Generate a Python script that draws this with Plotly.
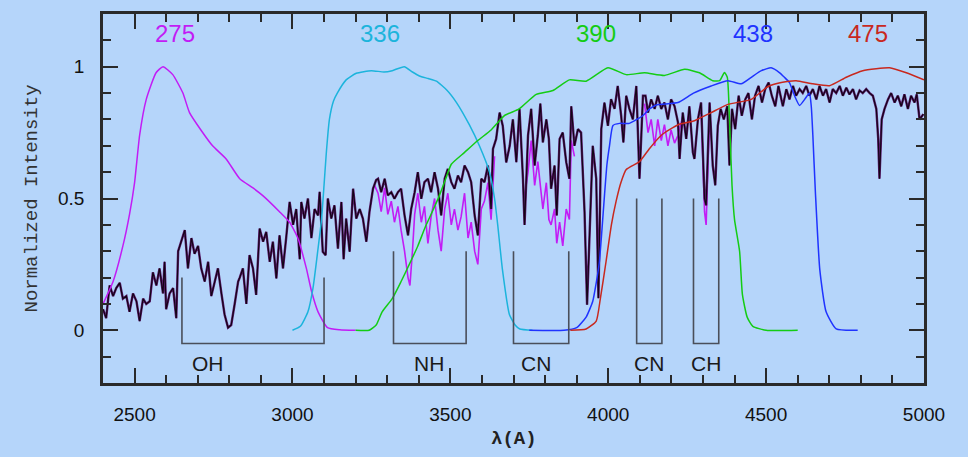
import plotly.graph_objects as go

# ---------------- data ----------------
# black (dominant) stellar spectrum: wavelength (A) and normalized flux
spec_wl = [2400, 2410, 2421, 2432, 2442, 2453, 2463, 2474, 2484, 2495, 2506, 2516, 2527, 2537, 2548,
           2558, 2569, 2579, 2590, 2595, 2600, 2611, 2622, 2632, 2638, 2648, 2659, 2669, 2680, 2690,
           2701, 2711, 2722, 2733, 2743, 2754, 2764, 2775, 2785, 2796, 2806, 2817, 2828,
           2833, 2843, 2854, 2864, 2875, 2885, 2896, 2907, 2917, 2928, 2938, 2949, 2959, 2970, 2980,
           2991, 3002, 3012, 3023, 3028, 3038, 3049, 3060, 3070, 3081, 3086, 3096, 3105, 3112, 3123,
           3133, 3144, 3155, 3162, 3170, 3181, 3192, 3202, 3213, 3223, 3234, 3244, 3255,
           3265, 3271, 3281, 3292, 3302, 3313, 3323, 3334, 3344, 3355, 3366, 3376, 3387, 3397, 3408,
           3418, 3429, 3439, 3450, 3461, 3471, 3482, 3492, 3503, 3513, 3524, 3534, 3545, 3556, 3566,
           3577, 3587, 3598, 3608, 3619, 3629, 3635, 3645, 3656, 3666, 3677,
           3688, 3698, 3709, 3719, 3730, 3735, 3746, 3756, 3767, 3777, 3785, 3793, 3804, 3812, 3819,
           3830, 3837, 3846, 3856, 3867, 3877, 3883, 3893, 3904, 3914, 3925, 3933, 3941, 3951, 3962,
           3969, 3978, 3988, 3999, 4009, 4020, 4030, 4041, 4048, 4057, 4067, 4078, 4089, 4099, 4110,
           4118, 4126, 4136, 4147, 4157, 4168, 4178, 4189, 4199, 4210, 4221, 4226, 4236, 4247, 4257,
           4268, 4273, 4284, 4294, 4305, 4310, 4321, 4331, 4339, 4347, 4356, 4366, 4377, 4384, 4392,
           4402, 4413, 4423, 4434, 4444, 4455, 4465, 4476, 4487, 4497, 4508, 4518, 4529, 4539,
           4553, 4564, 4574, 4585, 4595, 4606, 4616, 4627, 4637, 4648, 4659, 4669, 4680, 4690, 4701,
           4711, 4722, 4733, 4743, 4754, 4764, 4775, 4785, 4796, 4806, 4817, 4828, 4838, 4849, 4855,
           4859, 4866, 4875, 4886, 4896, 4907, 4917, 4928, 4938, 4949, 4959, 4970, 4977, 4986, 4998]
spec_flux = [0.08, 0.046, 0.17, 0.13, 0.16, 0.18, 0.12, 0.13, 0.07, 0.14, 0.11, 0.035, 0.12, 0.10, 0.11,
             0.22, 0.17, 0.235, 0.14, 0.26, 0.08, 0.14, 0.16, 0.046, 0.30, 0.34, 0.38, 0.235, 0.35, 0.29,
             0.32, 0.235, 0.185, 0.26, 0.13, 0.185, 0.235, 0.14, 0.06, 0.01, 0.02, 0.10, 0.185,
             0.20, 0.235, 0.10, 0.285, 0.235, 0.134, 0.386, 0.336, 0.373, 0.26, 0.336, 0.197, 0.36, 0.235, 0.35,
             0.487, 0.40, 0.46, 0.27, 0.487, 0.424, 0.50, 0.35, 0.46, 0.436, 0.525, 0.298, 0.285, 0.50, 0.424,
             0.474, 0.31, 0.487, 0.27, 0.424, 0.298, 0.537, 0.424, 0.46, 0.424, 0.336, 0.45, 0.537,
             0.57, 0.575, 0.524, 0.575, 0.512, 0.524, 0.499, 0.524, 0.537, 0.436, 0.36, 0.46, 0.524, 0.60, 0.499,
             0.562, 0.575, 0.524, 0.60, 0.537, 0.436, 0.575, 0.612, 0.562, 0.537, 0.587, 0.562, 0.625, 0.60, 0.562,
             0.436, 0.36, 0.575, 0.562, 0.625, 0.46, 0.688, 0.726, 0.826, 0.776, 0.637,
             0.70, 0.80, 0.638, 0.84, 0.575, 0.40, 0.74, 0.84, 0.625, 0.74, 0.86, 0.713, 0.80, 0.726, 0.537,
             0.625, 0.436, 0.726, 0.75, 0.638, 0.575, 0.85, 0.70, 0.763, 0.75, 0.449, 0.097, 0.386, 0.70, 0.575,
             0.122, 0.763, 0.864, 0.776, 0.877, 0.84, 0.927, 0.814, 0.713, 0.89, 0.84, 0.80, 0.927, 0.575, 0.89,
             0.89, 0.826, 0.876, 0.84, 0.89, 0.84, 0.864, 0.80, 0.876, 0.85, 0.788, 0.65, 0.826, 0.726, 0.85,
             0.675, 0.65, 0.80, 0.864, 0.50, 0.474, 0.864, 0.625, 0.55, 0.776, 0.84, 0.80, 0.85, 0.625, 0.84,
             0.763, 0.89, 0.814, 0.876, 0.90, 0.80, 0.89, 0.927, 0.864, 0.915, 0.94, 0.89, 0.85, 0.927,
             0.85, 0.915, 0.876, 0.927, 0.89, 0.915, 0.90, 0.927, 0.89, 0.915, 0.876, 0.927, 0.89, 0.915, 0.864,
             0.915, 0.90, 0.927, 0.89, 0.92, 0.895, 0.915, 0.876, 0.91, 0.90, 0.915, 0.90, 0.89, 0.84, 0.726,
             0.575, 0.80, 0.84, 0.876, 0.90, 0.864, 0.89, 0.85, 0.895, 0.84, 0.89, 0.864, 0.895, 0.80, 0.82]

# second (magenta) spectrum where it departs from the black one; None = gap
spec2_wl = [3260, 3271, 3281, 3292, 3302, 3313, 3323, 3334, 3344, 3355, 3366, 3372, 3380, 3387, 3397,
            3408, 3418, 3429, 3439, 3450, 3461, 3471, 3482, 3492, 3503, 3513, 3524, 3534, 3545, 3556,
            3566, 3577, 3587, 3598, 3608, 3619, 3629, 3640, None,
            3740, 3746, 3756, 3767, 3777, 3785, 3793, 3804, 3812, 3819, 3830, 3837, 3846, 3856, 3867,
            3877, 3883, 3893, None,
            4115, 4126, 4136, 4147, 4157, 4168, 4178, 4189, 4199, 4210, 4221, 4236, None,
            4295, 4305, 4310, 4321]
spec2_flux = [0.55, 0.52, 0.45, 0.54, 0.44, 0.49, 0.41, 0.47, 0.38, 0.30, 0.20, 0.17, 0.30, 0.44, 0.52,
              0.41, 0.47, 0.33, 0.43, 0.50, 0.38, 0.30, 0.46, 0.52, 0.40, 0.46, 0.38, 0.43, 0.52, 0.35,
              0.41, 0.30, 0.25, 0.46, 0.49, 0.56, 0.42, 0.66, None,
              0.55, 0.60, 0.72, 0.55, 0.64, 0.55, 0.46, 0.56, 0.42, 0.40, 0.46, 0.33, 0.41, 0.32, 0.46,
              0.42, 0.72, 0.66, None,
              0.86, 0.75, 0.80, 0.70, 0.80, 0.72, 0.78, 0.70, 0.76, 0.71, 0.74, 0.81, None,
              0.82, 0.45, 0.40, 0.82]

# filter transmission curves
f275_wl = [2400, 2432, 2463, 2484, 2500, 2516, 2537, 2568, 2590, 2621, 2653, 2674, 2710, 2747, 2790,
           2833, 2875, 2907, 2959, 2991, 3017, 3044, 3060, 3081, 3111, 3150, 3200]
f275_t = [0.10, 0.185, 0.32, 0.44, 0.56, 0.74, 0.876, 0.977, 1.0, 0.97, 0.90, 0.826, 0.76, 0.70, 0.65,
          0.575, 0.54, 0.51, 0.45, 0.41, 0.35, 0.235, 0.15, 0.07, 0.01, 0.002, 0.0]

f336_wl = [3000, 3025, 3049, 3065, 3080, 3092, 3100, 3107, 3117, 3130, 3142, 3170, 3202, 3250, 3290,
           3316, 3354, 3380, 3402, 3430, 3456, 3490, 3519, 3560, 3592, 3624, 3640, 3650, 3665, 3687,
           3705, 3720, 3760]
f336_t = [0.0, 0.015, 0.07, 0.16, 0.30, 0.42, 0.55, 0.67, 0.80, 0.87, 0.90, 0.95, 0.975, 0.985, 0.98,
          0.985, 1.0, 0.98, 0.965, 0.955, 0.945, 0.91, 0.865, 0.78, 0.70, 0.60, 0.50, 0.40, 0.23, 0.06,
          0.02, 0.005, 0.0]

f390_wl = [3200, 3243, 3265, 3284, 3316, 3344, 3370, 3397, 3420, 3439, 3465, 3487, 3503, 3545, 3587,
           3629, 3672, 3718, 3772, 3825, 3877, 3930, 3999, 4057, 4115, 4178, 4242, 4289, 4331, 4353,
           4368, 4377, 4384, 4392, 4400, 4416, 4425, 4440, 4458, 4500, 4600]
f390_t = [0.0, 0.0, 0.02, 0.07, 0.12, 0.185, 0.25, 0.32, 0.39, 0.44, 0.51, 0.58, 0.63, 0.675, 0.72,
          0.76, 0.815, 0.84, 0.895, 0.91, 0.95, 0.945, 0.996, 0.97, 0.977, 0.967, 0.99, 0.977, 0.947, 0.947,
          0.978, 0.96, 0.80, 0.55, 0.42, 0.30, 0.135, 0.05, 0.015, 0.0, 0.0]

f438_wl = [3750, 3860, 3900, 3930, 3951, 3962, 3972, 3980, 3988, 3996, 4004, 4015, 4036, 4067, 4110,
           4131, 4152, 4221, 4270, 4326, 4379, 4421, 4453, 4485, 4516, 4543, 4558, 4574, 4590, 4606,
           4622, 4637, 4643, 4648, 4656, 4670, 4690, 4722, 4790]
f438_t = [0.0, 0.0, 0.01, 0.05, 0.11, 0.18, 0.26, 0.38, 0.51, 0.63, 0.70, 0.777, 0.785, 0.785, 0.815,
          0.84, 0.855, 0.864, 0.90, 0.927, 0.947, 0.935, 0.96, 0.985, 0.996, 0.977, 0.96, 0.94, 0.89, 0.853,
          0.876, 0.90, 0.85, 0.74, 0.525, 0.23, 0.07, 0.005, 0.0]

f475_wl = [3880, 3930, 3962, 3975, 3993, 4010, 4025, 4040, 4057, 4099, 4131, 4168, 4221, 4273, 4326,
           4379, 4453, 4506, 4548, 4595, 4648, 4701, 4754, 4806, 4891, 4944, 5000]
f475_t = [0.0, 0.005, 0.035, 0.12, 0.26, 0.40, 0.49, 0.56, 0.61, 0.64, 0.69, 0.74, 0.78, 0.795, 0.826,
          0.857, 0.876, 0.925, 0.94, 0.947, 0.935, 0.928, 0.96, 0.985, 0.996, 0.977, 0.95]

filter_names = ["275", "336", "390", "438", "475"]
filter_label_x = [2627, 3276, 3961, 4457, 4824]

# molecular band brackets
band_names = ["OH", "NH", "CN", "CN", "CH"]
band_lo = [2650, 3320, 3700, 4090, 4270]
band_hi = [3100, 3550, 3875, 4170, 4350]
band_top = [0.2, 0.3, 0.3, 0.5, 0.5]
band_bottom = -0.05
band_label_x = [2731, 3431, 3772, 4130, 4310]

# ---------------- figure ----------------
BG = "#b5d5fa"
filter_data = [(f275_wl, f275_t, "#c21cf5"), (f336_wl, f336_t, "#1cb4dc"),
               (f390_wl, f390_t, "#14cc14"), (f438_wl, f438_t, "#1f33ff"),
               (f475_wl, f475_t, "#c8281e")]

fig = go.Figure()

fig.add_trace(go.Scatter(x=spec2_wl, y=spec2_flux, mode="lines", connectgaps=False,
                         line=dict(color="#c21cf5", width=1.6), hoverinfo="skip"))
fig.add_trace(go.Scatter(x=spec_wl, y=spec_flux, mode="lines",
                         line=dict(color="#5a1a6a", width=2.4), hoverinfo="skip"))
fig.add_trace(go.Scatter(x=spec_wl, y=spec_flux, mode="lines",
                         line=dict(color="#120414", width=1.1), hoverinfo="skip"))

for wl, t, c in filter_data:
    fig.add_trace(go.Scatter(x=wl, y=t, mode="lines",
                             line=dict(color=c, width=1.5, shape="spline", smoothing=0.5),
                             hoverinfo="skip"))

for lo, hi, top in zip(band_lo, band_hi, band_top):
    fig.add_trace(go.Scatter(x=[lo, lo, hi, hi], y=[top, band_bottom, band_bottom, top],
                             mode="lines", line=dict(color="#4a4f5a", width=1.6),
                             hoverinfo="skip"))

for (wl, t, c), name, lx in zip(filter_data, filter_names, filter_label_x):
    fig.add_annotation(x=lx, y=1.125, text=name, showarrow=False,
                       font=dict(family="Liberation Sans, Arial", size=24, color=c),
                       xanchor="center", yanchor="middle")

for name, lx in zip(band_names, band_label_x):
    fig.add_annotation(x=lx, y=-0.125, text=name, showarrow=False,
                       font=dict(family="Liberation Sans, Arial", size=21, color="#1a1a1a"),
                       xanchor="center", yanchor="middle")

fig.add_annotation(xref="paper", yref="paper", x=-0.0865, y=0.5, text="Normalized Intensity",
                   textangle=-90, showarrow=False,
                   font=dict(family="Liberation Mono, monospace", size=19, color="#333333"),
                   xanchor="center", yanchor="middle")
fig.add_annotation(xref="paper", yref="paper", x=0.5006, y=-0.153, text="<b>λ(A)</b>",
                   showarrow=False,
                   font=dict(family="Liberation Mono, monospace", size=19, color="#222222"),
                   xanchor="center", yanchor="middle")

axis_common = dict(showgrid=False, zeroline=False, showline=True, linecolor="#2a2a2a", linewidth=2.5,
                   mirror="ticks", ticks="inside", ticklen=15, tickwidth=2, tickcolor="#2a2a2a",
                   tickfont=dict(family="Liberation Sans, Arial", size=19, color="#111111"))

fig.update_xaxes(range=[2400, 5000], tick0=2500, dtick=500,
                 minor=dict(dtick=100, ticks="inside", ticklen=8, tickwidth=2, tickcolor="#2a2a2a"),
                 ticklabelstandoff=12, **axis_common)
fig.update_yaxes(range=[-0.2, 1.2], tick0=0, dtick=0.5,
                 minor=dict(dtick=0.1, ticks="inside", ticklen=8, tickwidth=2, tickcolor="#2a2a2a"),
                 ticklabelstandoff=12, **axis_common)

fig.update_layout(width=968, height=457, margin=dict(l=103, r=44, t=11, b=74),
                  paper_bgcolor=BG, plot_bgcolor=BG, showlegend=False)

fig.write_html("out.html")
